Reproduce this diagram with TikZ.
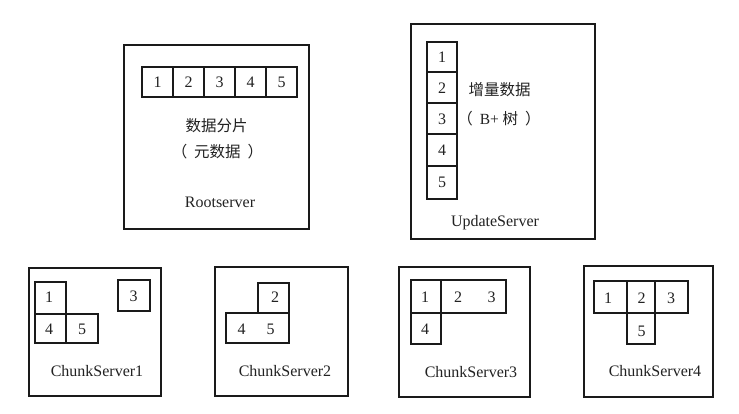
\documentclass[tikz,border=0pt]{standalone}
\usepackage{fontspec}
\setmainfont{Liberation Serif}
\newfontfamily\cjk{Noto Sans CJK SC}
\definecolor{ink}{HTML}{1A1A1A}
\definecolor{txt}{HTML}{222222}
\tikzset{
  server/.style={draw=ink, line width=2.7pt},
  cellbox/.style={draw=ink, line width=2.2pt},
  num/.style={text=txt, font=\fontsize{16}{19}\selectfont, inner sep=0pt},
  lbl/.style={text=txt, font=\fontsize{16}{19}\selectfont, inner sep=0pt},
  zh/.style={text=txt, font=\cjk\fontsize{15.5}{18}\selectfont, inner sep=0pt}
}
\begin{document}
\begin{tikzpicture}[x=1pt,y=-1pt]
\useasboundingbox[fill=white] (0,0) rectangle (739,414);
% ---------- Rootserver ----------
\draw[server] (124,45) rectangle (309,229);
\foreach \i in {0,...,4}{
  \draw[cellbox] ({142+31*\i},67) rectangle ({173+31*\i},97);
  \pgfmathtruncatemacro{\n}{\i+1}
  \node[num] (r\n) at ({157.5+31*\i},82) {\n};
}
\node[zh] (rz1) at (216.5,126) {数据分片};
\node[zh] (rz2) at (217.5,152) {（\hspace{7pt}元数据\hspace{7pt}）};
\node[lbl] (rlab) at (220,202) {Rootserver};
% ---------- UpdateServer ----------
\draw[server] (411,24) rectangle (595,239);
\draw[cellbox] (427,42) rectangle (457,72);
\draw[cellbox] (427,72) rectangle (457,103);
\draw[cellbox] (427,103) rectangle (457,134);
\draw[cellbox] (427,134) rectangle (457,166);
\draw[cellbox] (427,166) rectangle (457,199);
\node[num] (u1) at (442,57.5) {1};
\node[num] (u2) at (442,88.5) {2};
\node[num] (u3) at (442,119) {3};
\node[num] (u4) at (442,150.5) {4};
\node[num] (u5) at (442,182.5) {5};
\node[zh] (uz1) at (499.5,90) {增量数据};
\node[zh] (uz2) at (499,119) {（\hspace{7pt}\fontspec{Liberation Serif}B+ \cjk 树\hspace{7pt}）};
\node[lbl] (ulab) at (495,223) {UpdateServer};
% ---------- ChunkServer1 ----------
\draw[server] (29,268) rectangle (161,396);
\draw[cellbox] (35,282) rectangle (66,314);
\draw[cellbox] (35,314) rectangle (66,343);
\draw[cellbox] (66,314) rectangle (98,343);
\draw[cellbox] (118,280) rectangle (150,311);
\node[num] (a1) at (49,297.5) {1};
\node[num] (a4) at (49,329) {4};
\node[num] (a5) at (82,329) {5};
\node[num] (a3) at (133.5,296) {3};
\node[lbl] (alab) at (97,371) {ChunkServer1};
% ---------- ChunkServer2 ----------
\draw[server] (215,267) rectangle (348,396);
\draw[cellbox] (258,283) rectangle (289,313);
\draw[cellbox] (226,313) rectangle (289,343);
\node[num] (b2) at (275,297.5) {2};
\node[num] (b4) at (241.5,329.5) {4};
\node[num] (b5) at (270.5,329.5) {5};
\node[lbl] (blab) at (285,371) {ChunkServer2};
% ---------- ChunkServer3 ----------
\draw[server] (399,267) rectangle (530,397);
\draw[cellbox] (411,280) rectangle (441,313);
\draw[cellbox] (441,280) rectangle (506,313);
\draw[cellbox] (411,313) rectangle (441,344);
\node[num] (c1) at (425,297) {1};
\node[num] (c2) at (458,297) {2};
\node[num] (c3) at (491.5,297) {3};
\node[num] (c4) at (425,329.5) {4};
\node[lbl] (clab) at (471,372) {ChunkServer3};
% ---------- ChunkServer4 ----------
\draw[server] (584,266) rectangle (713,397);
\draw[cellbox] (594,281) rectangle (627,313);
\draw[cellbox] (655,281) rectangle (688,313);
\draw[cellbox] (627,281) rectangle (655,313);
\draw[cellbox] (627,313) rectangle (655,344);
\node[num] (d1) at (608,298) {1};
\node[num] (d2) at (641.5,298) {2};
\node[num] (d3) at (671,298) {3};
\node[num] (d5) at (641.5,331.5) {5};
\node[lbl] (dlab) at (655,371) {ChunkServer4};
\end{tikzpicture}
\end{document}
